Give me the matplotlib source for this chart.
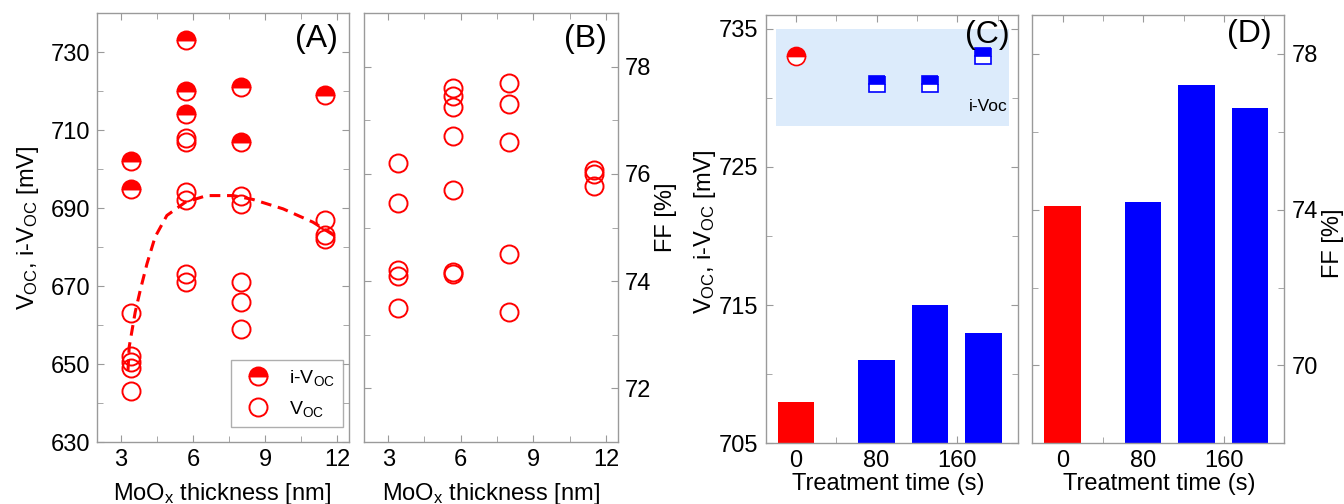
import numpy as np
import matplotlib
matplotlib.use('Agg')
import matplotlib.pyplot as plt
from matplotlib.ticker import MultipleLocator, FixedLocator

plt.rcParams['font.family'] = ['Liberation Sans', 'DejaVu Sans']
plt.rcParams['mathtext.fontset'] = 'custom'
plt.rcParams['mathtext.rm'] = 'Liberation Sans'
plt.rcParams['mathtext.it'] = 'Liberation Sans:italic'

# panel A: Voc / i-Voc vs MoOx thickness
ivoc_x = [3.4, 3.4, 5.7, 5.7, 5.7, 8.0, 8.0, 11.5]
ivoc_y = [702, 695, 733, 720, 714, 721, 707, 719]
voc_x = [3.4, 3.4, 3.4, 3.4, 3.4, 5.7, 5.7, 5.7, 5.7, 5.7, 5.7,
         8.0, 8.0, 8.0, 8.0, 8.0, 11.5, 11.5, 11.5]
voc_y = [663, 652, 650.5, 649, 643, 708, 707, 694, 692, 673, 671,
         693, 691, 671, 666, 659, 687, 683, 682]
# dashed guide line
fit_x = [3.29, 3.34, 3.59, 3.8, 4.08, 4.42, 4.91, 5.68, 6.57, 7.67, 8.5, 9.75, 10.99, 12.03]
fit_y = [648.4, 654.4, 663.3, 668.9, 675.7, 682.6, 688.1, 691.5, 693.2, 693.2, 692.2, 689.8, 686.4, 682.4]

# panel B: FF vs MoOx thickness
ff_x = [3.4, 3.4, 3.4, 3.4, 3.4, 5.7, 5.7, 5.7, 5.7, 5.7, 5.7, 5.7,
        8.0, 8.0, 8.0, 8.0, 8.0, 11.5, 11.5, 11.5]
ff_y = [76.2, 75.45, 74.2, 74.1, 73.5, 77.6, 77.45, 77.25, 76.7, 75.7, 74.17, 74.13,
        77.7, 77.3, 76.6, 74.5, 73.42, 76.08, 75.99, 75.78]

# panels C and D: treatment time
t_pos = [0, 80, 133, 186]
t_colors = ['red', 'blue', 'blue', 'blue']
voc_t = [708, 711, 715, 713]
ivoc_t = [733, 731, 731, 733]
ff_t = [74.1, 74.2, 77.2, 76.6]

spine_c = '#9a9a9a'
fs = 17

fig = plt.figure(figsize=(13.44, 5.04), dpi=100)
axA = fig.add_axes([0.0722, 0.123, 0.1875, 0.851])
axB = fig.add_axes([0.2708, 0.123, 0.1890, 0.851])
axC = fig.add_axes([0.5697, 0.1204, 0.1875, 0.8498])
axD = fig.add_axes([0.7681, 0.1204, 0.1875, 0.8498])


def style(ax):
    for s in ax.spines.values():
        s.set_color(spine_c)
        s.set_linewidth(1.0)
    ax.tick_params(which='both', direction='in', top=True, right=True,
                   left=True, bottom=True, color=spine_c, labelsize=fs, pad=5)
    ax.tick_params(which='major', length=5)
    ax.tick_params(which='minor', length=4)


# ---- A
axA.plot(fit_x, fit_y, '--', color='red', lw=2.2, dashes=(3.5, 2.2), zorder=1)
axA.plot(voc_x, voc_y, 'o', ms=13, mfc='none', mec='red', mew=1.4, ls='none',
         label=r'V$_{\mathrm{OC}}$', zorder=2)
axA.plot(ivoc_x, ivoc_y, 'o', ms=13, fillstyle='top', mfc='red', mfcalt='white',
         mec='red', mew=1.4, ls='none', label=r'i-V$_{\mathrm{OC}}$', zorder=3)
axA.set_xlim(2, 12.5)
axA.set_ylim(630, 740)
axA.xaxis.set_major_locator(MultipleLocator(3))
axA.xaxis.set_minor_locator(MultipleLocator(1.5))
axA.yaxis.set_major_locator(FixedLocator(np.arange(630, 731, 20)))
axA.yaxis.set_minor_locator(FixedLocator(np.arange(640, 741, 20)))
style(axA)
axA.set_xlabel(r'MoO$_{\mathrm{x}}$ thickness [nm]', fontsize=fs)
axA.set_ylabel(r'V$_{\mathrm{OC}}$, i-V$_{\mathrm{OC}}$ [mV]', fontsize=fs, va='center')
axA.yaxis.set_label_coords(-0.274, 0.5)
axA.xaxis.set_label_coords(0.498, -0.09)
h, l = axA.get_legend_handles_labels()
leg = axA.legend(h[::-1], l[::-1], loc='lower right', bbox_to_anchor=(0.975, 0.035),
                 fontsize=14, frameon=True, fancybox=False, edgecolor=spine_c,
                 borderaxespad=0, handletextpad=0.6, labelspacing=0.6)
leg.get_frame().set_linewidth(1.0)
axA.text(0.955, 0.94, '(A)', transform=axA.transAxes, ha='right', va='center', fontsize=23)

# ---- B
axB.plot(ff_x, ff_y, 'o', ms=13, mfc='none', mec='red', mew=1.4, ls='none')
axB.set_xlim(2, 12.5)
axB.set_ylim(71, 79)
axB.xaxis.set_major_locator(MultipleLocator(3))
axB.xaxis.set_minor_locator(MultipleLocator(1.5))
axB.yaxis.set_major_locator(MultipleLocator(2))
axB.yaxis.set_minor_locator(MultipleLocator(1))
style(axB)
axB.tick_params(labelleft=False, labelright=True)
axB.yaxis.set_label_position('right')
axB.set_xlabel(r'MoO$_{\mathrm{x}}$ thickness [nm]', fontsize=fs)
axB.set_ylabel('FF [%]', fontsize=fs, rotation=90, va='center')
axB.yaxis.set_label_coords(1.19, 0.524)
axB.xaxis.set_label_coords(0.5, -0.09)
axB.text(0.955, 0.94, '(B)', transform=axB.transAxes, ha='right', va='center', fontsize=23)

# ---- C
axC.axhspan(728, 735, xmin=(-20 + 30) / 250, xmax=(211 + 30) / 250,
            color='#dcebfb', lw=0, zorder=0)
axC.bar(t_pos, [v - 705 for v in voc_t], bottom=705, width=36, color=t_colors, zorder=2)
axC.plot(t_pos[:1], ivoc_t[:1], 'o', ms=13, fillstyle='top', mfc='red', mfcalt='white',
         mec='red', mew=1.2, ls='none', zorder=3)
axC.plot(t_pos[1:], ivoc_t[1:], 's', ms=12, fillstyle='top', mfc='blue', mfcalt='white',
         mec='blue', mew=1.2, ls='none', zorder=3)
axC.text(210, 729.4, 'i-Voc', ha='right', va='center', fontsize=12.5)
axC.set_xlim(-30, 220)
axC.set_ylim(705, 736)
axC.xaxis.set_major_locator(MultipleLocator(80))
axC.xaxis.set_minor_locator(MultipleLocator(40))
axC.yaxis.set_major_locator(FixedLocator([705, 715, 725, 735]))
axC.yaxis.set_minor_locator(FixedLocator([710, 720, 730]))
style(axC)
axC.set_xlabel('Treatment time (s)', fontsize=fs)
axC.set_ylabel(r'V$_{\mathrm{OC}}$, i-V$_{\mathrm{OC}}$ [mV]', fontsize=fs, va='center')
axC.yaxis.set_label_coords(-0.241, 0.495)
axC.xaxis.set_label_coords(0.485, -0.069)
axC.text(0.97, 0.953, '(C)', transform=axC.transAxes, ha='right', va='center', fontsize=23)

# ---- D
axD.bar(t_pos, [v - 68 for v in ff_t], bottom=68, width=36, color=t_colors, zorder=2)
axD.set_xlim(-30, 220)
axD.set_ylim(68, 79)
axD.xaxis.set_major_locator(MultipleLocator(80))
axD.xaxis.set_minor_locator(MultipleLocator(40))
axD.yaxis.set_major_locator(FixedLocator([70, 74, 78]))
axD.yaxis.set_minor_locator(FixedLocator([72, 76]))
style(axD)
axD.tick_params(labelleft=False, labelright=True)
axD.yaxis.set_label_position('right')
axD.set_xlabel('Treatment time (s)', fontsize=fs)
axD.set_ylabel('FF [%]', fontsize=fs, rotation=90, va='center')
axD.yaxis.set_label_coords(1.193, 0.467)
axD.xaxis.set_label_coords(0.503, -0.069)
axD.text(0.95, 0.956, '(D)', transform=axD.transAxes, ha='right', va='center', fontsize=23)

fig.savefig('out.png', dpi=100)
